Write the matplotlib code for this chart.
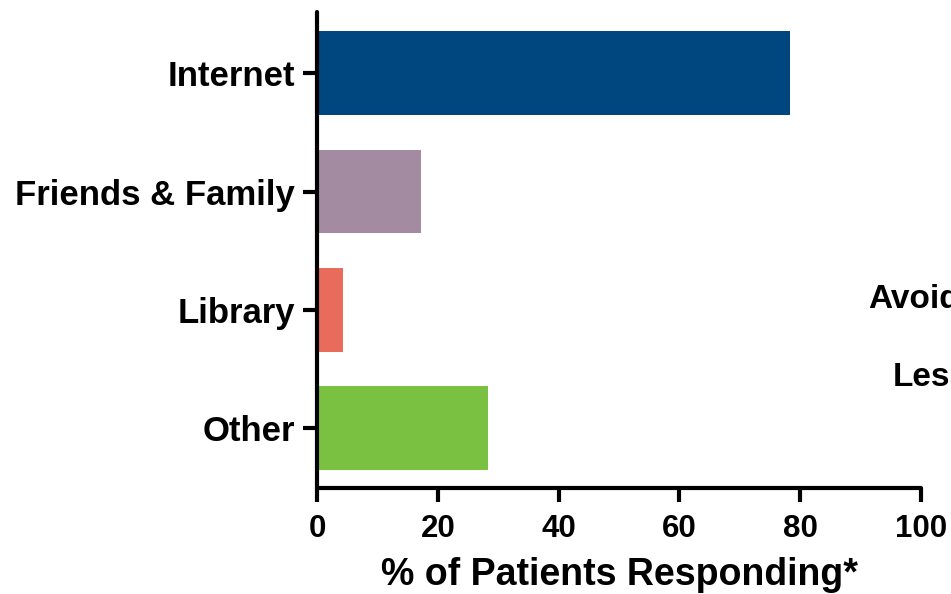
import matplotlib
matplotlib.use("Agg")
import matplotlib.pyplot as plt

categories = ["Internet", "Friends & Family", "Library", "Other"]
values = [78.3, 17.2, 4.3, 28.3]
colors = ["#00467F", "#A38BA1", "#E86B5C", "#7AC142"]
xticks = [0, 20, 40, 60, 80, 100]
side_texts = ["Avoid", "Less"]

plt.rcParams['font.family'] = ['Liberation Sans', 'DejaVu Sans']
plt.rcParams['font.weight'] = 'bold'

fig = plt.figure(figsize=(9.51, 5.94), dpi=100)
ax = fig.add_axes([317/951, 1-488/594, (921-317)/951, (488-12)/594])

ypos = list(range(len(categories)))[::-1]
ax.barh(ypos, values, height=0.71, color=colors, edgecolor='none')

ax.set_xlim(0, 100)
ax.set_ylim(-0.51, 3.52)
ax.set_xticks(xticks)
ax.set_xticklabels([str(t) for t in xticks], fontsize=22.5, fontweight='bold')
ax.set_yticks(ypos)
ax.set_yticklabels(categories, fontsize=25, fontweight='bold')
ax.set_xlabel("% of Patients Responding*", fontsize=27, fontweight='bold', labelpad=9)

for s in ['top', 'right']:
    ax.spines[s].set_visible(False)
for s in ['left', 'bottom']:
    ax.spines[s].set_linewidth(3)
    ax.spines[s].set_capstyle('round')
ax.tick_params(axis='both', direction='out', length=10, width=3, color='black')
ax.tick_params(axis='x', pad=9)
ax.tick_params(axis='y', pad=6)

fig.text(868/951, 1-300/594, side_texts[0], fontsize=24, fontweight='bold', ha='left', va='center')
fig.text(893/951, 1-378/594, side_texts[1], fontsize=24, fontweight='bold', ha='left', va='center')

fig.savefig("out.png", dpi=100)
